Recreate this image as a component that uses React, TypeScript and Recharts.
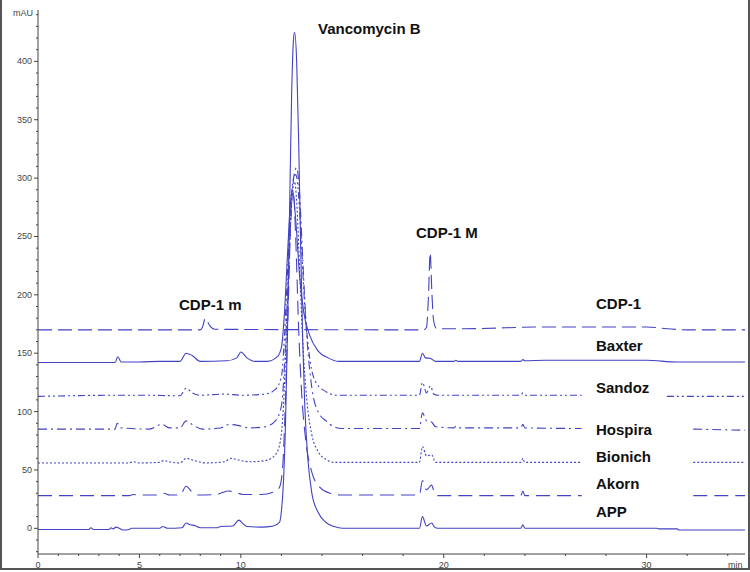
import { Line, LineChart, XAxis, YAxis } from "recharts";

type Pt = { t: number; y: number | null };

// retention time (min) / absorbance (mAU) pairs
const cdp1: [number, number | null][] = [
  [0, 170], [8.0, 170], [8.1, 172], [8.25, 180], [8.45, 174], [8.7, 170.5],
  [19.0, 170], [19.15, 172], [19.25, 200], [19.33, 236], [19.42, 200], [19.5, 178],
  [19.65, 171], [21, 171], [25, 172.5], [30, 172.5], [31, 171], [32, 170], [34.85, 170],
];

const baxter: [number, number | null][] = [
  [0, 142], [3.8, 142], [3.93, 147], [4.1, 142.5], [5, 142.5], [6.0, 143], [7.0, 143],
  [7.3, 150], [7.6, 148], [8.0, 143], [9.3, 143.5], [9.8, 146], [10.0, 151], [10.3, 146],
  [10.7, 143], [11.3, 143], [11.8, 147], [12.0, 155], [12.15, 185], [12.3, 235],
  [12.45, 280], [12.55, 290], [12.7, 265], [12.9, 215], [13.1, 185], [13.4, 165],
  [13.8, 152], [14.3, 146], [14.8, 143], [18.8, 143], [18.95, 150], [19.1, 146],
  [19.35, 145.5], [19.6, 143], [20.5, 143], [20.6, 144], [20.7, 143], [23.8, 143],
  [23.9, 144.5], [24.0, 143.5], [25.0, 144], [30, 144], [31.5, 142.5], [34.85, 142.5],
];

const sandoz: [number, number | null][] = [
  [0, 113], [3.9, 114], [5.3, 114], [7.0, 113.5], [7.3, 120], [7.6, 116], [8.0, 114],
  [9.2, 115], [10.0, 114], [11.2, 115], [11.7, 119], [12.0, 130], [12.15, 165],
  [12.3, 220], [12.45, 275], [12.6, 300], [12.7, 303], [12.8, 295], [12.95, 255],
  [13.15, 190], [13.4, 145], [13.7, 125], [14.2, 117], [14.7, 114], [18.8, 114],
  [18.95, 125], [19.15, 116], [19.35, 122], [19.5, 115], [19.7, 114], [23.8, 114],
  [23.9, 116], [24.0, 114], [26.8, 114], [26.85, null], [31.0, 113], [34.85, 113],
];

const hospira: [number, number | null][] = [
  [0, 85], [3.8, 85], [3.9, 90], [4.1, 86], [5.5, 85], [6.1, 89], [6.5, 86], [7.0, 86],
  [7.3, 92], [7.6, 89], [8.1, 85], [9.0, 86], [9.4, 89], [9.9, 88], [10.4, 86],
  [11.2, 87], [11.7, 92], [12.0, 105], [12.15, 140], [12.3, 200], [12.45, 260],
  [12.6, 300], [12.75, 309], [12.9, 285], [13.05, 230], [13.25, 165], [13.5, 120],
  [13.8, 100], [14.2, 92], [14.6, 87], [15, 85.5], [18.8, 85.5], [18.95, 99],
  [19.15, 92], [19.4, 91], [19.6, 87], [20.5, 86], [20.6, 87.5], [20.7, 86],
  [23.8, 86], [23.9, 89], [24.0, 86], [26.8, 85.5], [26.85, null], [32.3, 85],
  [34.85, 84],
];

const bionich: [number, number | null][] = [
  [0, 56], [4.5, 56], [4.7, 57], [5.0, 56], [6.0, 56.5], [6.2, 58], [6.6, 56.5],
  [7.0, 56], [7.3, 60], [7.7, 58], [8.3, 56], [9.2, 57], [9.5, 60], [10.0, 58],
  [10.5, 57], [11.2, 58], [11.7, 63], [11.95, 75], [12.1, 105], [12.25, 170],
  [12.4, 240], [12.55, 290], [12.65, 297], [12.75, 280], [12.9, 220], [13.05, 160],
  [13.25, 110], [13.5, 80], [13.8, 66], [14.2, 59], [14.6, 56.5], [18.8, 56.5],
  [18.95, 70], [19.15, 62], [19.4, 63], [19.6, 56.5], [23.8, 56.5], [23.9, 60],
  [24.0, 56.5], [26.8, 56.5], [26.85, null], [32.3, 56.5], [34.85, 56.5],
];

const akorn: [number, number | null][] = [
  [0, 28], [4.5, 28], [4.7, 29], [5.0, 28.5], [6.0, 28.5], [6.2, 30], [6.5, 28.5],
  [7.0, 28.5], [7.3, 36], [7.6, 31], [7.9, 28.5], [8.8, 29], [9.0, 30], [9.4, 32],
  [9.7, 31], [10.1, 29], [11.0, 29], [11.6, 31], [11.9, 35], [12.05, 50], [12.2, 110],
  [12.35, 200], [12.5, 280], [12.6, 285], [12.7, 250], [12.85, 170], [13.0, 115],
  [13.2, 75], [13.5, 48], [13.9, 35], [14.4, 30], [15, 28.5], [18.8, 28.5],
  [18.95, 41], [19.15, 33], [19.4, 37], [19.55, 30], [19.7, 28], [23.8, 28],
  [23.9, 32], [24.0, 28], [26.8, 28], [26.85, null], [32.3, 28], [34.85, 28],
];

const app: [number, number | null][] = [
  [0, -1], [2.5, -1], [2.6, 0.5], [2.75, -1], [3.5, -1], [3.6, 0.5], [3.7, -0.5],
  [3.85, 1], [4.0, 0], [4.2, -1.5], [4.5, -1], [4.6, 0], [6.0, 0], [6.15, 1.5],
  [6.4, 0], [7.1, 0.5], [7.3, 4.5], [7.5, 3], [7.7, 2.5], [8.0, 0.5], [8.8, 0.5],
  [9.0, 1.5], [9.6, 2], [9.9, 7], [10.1, 4], [10.3, 1.5], [11.0, 1], [11.6, 2],
  [11.9, 5], [12.0, 15], [12.1, 40], [12.2, 90], [12.3, 170], [12.4, 270],
  [12.5, 370], [12.6, 420], [12.65, 425], [12.75, 400], [12.85, 330], [12.95, 240],
  [13.05, 160], [13.15, 105], [13.3, 60], [13.5, 30], [13.8, 14], [14.2, 5],
  [14.6, 1.5], [15, 0], [18.8, 0], [18.95, 10], [19.15, 2], [19.4, 4.5], [19.55, 1],
  [19.7, 0], [23.8, 0], [23.9, 3], [24.0, 0], [30.5, 0], [30.6, -0.5], [31.5, -0.5],
  [31.6, -1.5], [34.85, -1.5],
];

const xTicks = [
  0, 1, 2, 3, 4, 5, 6, 7, 8, 9, 10, 11, 12, 13, 14, 15, 16, 17, 18, 19, 20, 21, 22,
  23, 24, 25, 26, 27, 28, 29, 30, 31, 32, 33, 34,
];
const yTicks = [
  -20, -10, 0, 10, 20, 30, 40, 50, 60, 70, 80, 90, 100, 110, 120, 130, 140, 150, 160,
  170, 180, 190, 200, 210, 220, 230, 240, 250, 260, 270, 280, 290, 300, 310, 320, 330,
  340, 350, 360, 370, 380, 390, 400, 410, 420, 430, 440,
];

const toPts = (arr: [number, number | null][]): Pt[] =>
  arr.map(([t, y]) => ({ t, y }));

const BLUE = "#4242c4";
const AXIS = "#444";

const series = [
  { name: "CDP-1", data: toPts(cdp1), dash: "14 6" },
  { name: "Baxter", data: toPts(baxter), dash: undefined },
  { name: "Sandoz", data: toPts(sandoz), dash: "7 3 2 3 2 3" },
  { name: "Hospira", data: toPts(hospira), dash: "9 4 2 4" },
  { name: "Bionich", data: toPts(bionich), dash: "2 2" },
  { name: "Akorn", data: toPts(akorn), dash: "14 7" },
  { name: "APP", data: toPts(app), dash: undefined },
];

function YTick(props: any) {
  const { x, y, payload } = props;
  const major = payload.value % 50 === 0;
  return (
    <g>
      <line x1={x - (major ? 4 : 2)} x2={x} y1={y} y2={y} stroke={AXIS} />
      {major && (
        <text x={x - 6} y={y + 3} textAnchor="end" fontSize={9} fill={AXIS}>
          {payload.value}
        </text>
      )}
    </g>
  );
}

function XTick(props: any) {
  const { x, y, payload } = props;
  const major = payload.value % 5 === 0;
  return (
    <g>
      <line x1={x} x2={x} y1={y} y2={y + (major ? 4 : 2)} stroke={AXIS} />
      {major && (
        <text x={x} y={y + 14} textAnchor="middle" fontSize={9} fill={AXIS}>
          {payload.value}
        </text>
      )}
    </g>
  );
}

const labelStyle = {
  fontFamily: "'Liberation Sans', Arial, sans-serif",
  fontWeight: 700,
  fontSize: 15,
  fill: "#111",
};

export default function App() {
  return (
    <div
      style={{
        position: "absolute",
        left: 0,
        top: 0,
        width: 750,
        height: 572,
        background: "#fff",
        fontFamily: "'Liberation Sans', Arial, sans-serif",
      }}
    >
      <LineChart
        width={750}
        height={572}
        margin={{ top: 10, right: 5, bottom: 0, left: 0 }}
      >
        <XAxis
          type="number"
          dataKey="t"
          domain={[0, 34.85]}
          ticks={xTicks}
          tick={<XTick />}
          tickSize={0}
          tickMargin={0}
          height={18}
          stroke={AXIS}
          allowDataOverflow
        />
        <YAxis
          type="number"
          dataKey="y"
          domain={[-22, 444]}
          ticks={yTicks}
          tick={<YTick />}
          tickSize={0}
          tickMargin={0}
          width={38}
          stroke={AXIS}
          allowDataOverflow
          interval={0}
        />
        {series.map((s) => (
          <Line
            key={s.name}
            data={s.data}
            dataKey="y"
            type="monotone"
            stroke={BLUE}
            strokeWidth={1.1}
            strokeDasharray={s.dash}
            dot={false}
            activeDot={false}
            connectNulls={false}
            isAnimationActive={false}
          />
        ))}
      </LineChart>
      <svg
        width={750}
        height={572}
        style={{ position: "absolute", left: 0, top: 0, pointerEvents: "none" }}
      >
        <text x={13} y={16} fontSize={9} fill={AXIS}>
          mAU
        </text>
        <text x={728} y={568} fontSize={9} fill={AXIS}>
          min
        </text>
        <text x={318} y={34} {...labelStyle}>
          Vancomycin B
        </text>
        <text x={416} y={238} {...labelStyle}>
          CDP-1 M
        </text>
        <text x={179} y={310} {...labelStyle}>
          CDP-1 m
        </text>
        <text x={596} y={309} {...labelStyle}>
          CDP-1
        </text>
        <text x={596} y={351} {...labelStyle}>
          Baxter
        </text>
        <text x={596} y={393} {...labelStyle}>
          Sandoz
        </text>
        <text x={596} y={435} {...labelStyle}>
          Hospira
        </text>
        <text x={596} y={462} {...labelStyle}>
          Bionich
        </text>
        <text x={596} y={489} {...labelStyle}>
          Akorn
        </text>
        <text x={596} y={517} {...labelStyle}>
          APP
        </text>
        <line x1={1} x2={1} y1={0} y2={570} stroke="#555" strokeWidth={2} />
        <line x1={749} x2={749} y1={0} y2={570} stroke="#555" strokeWidth={2} />
        <line x1={0} x2={750} y1={569} y2={569} stroke="#555" strokeWidth={2} />
      </svg>
    </div>
  );
}
